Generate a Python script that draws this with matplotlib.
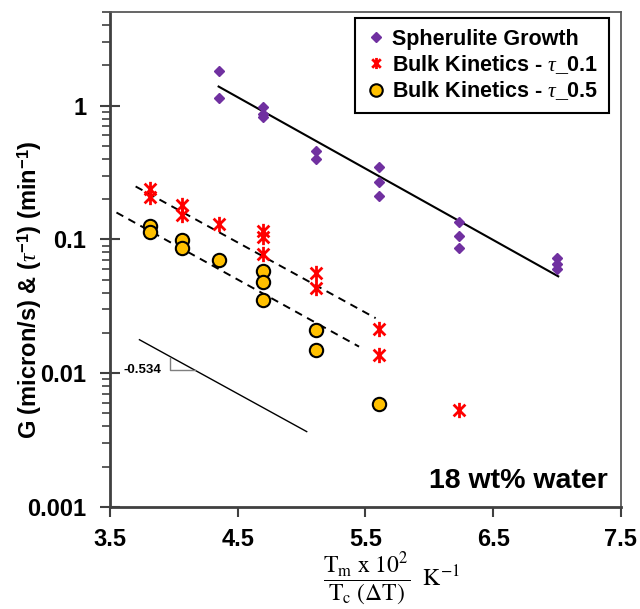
import matplotlib
matplotlib.use("Agg")
import matplotlib.pyplot as plt
from matplotlib.path import Path
from matplotlib.ticker import FixedLocator, LogLocator, NullFormatter

plt.rcParams['font.family'] = ['Liberation Sans', 'DejaVu Sans']
plt.rcParams['mathtext.fontset'] = 'custom'
plt.rcParams['mathtext.rm'] = 'Liberation Sans:bold'
plt.rcParams['mathtext.bf'] = 'Liberation Sans:bold'
plt.rcParams['mathtext.it'] = 'Liberation Serif:italic'

# ---------------- data ----------------
x_sph = [4.35, 4.35, 4.70, 4.70, 4.70, 5.11, 5.11, 5.61, 5.61, 5.61,
         6.23, 6.23, 6.23, 7.00, 7.00, 7.00]
y_sph = [1.83, 1.15, 0.98, 0.86, 0.83, 0.46, 0.40, 0.35, 0.27, 0.21,
         0.135, 0.107, 0.086, 0.073, 0.066, 0.060]

x_t01 = [3.81, 3.81, 4.06, 4.06, 4.35, 4.70, 4.70, 4.70, 5.11, 5.11, 5.61, 5.61, 6.23]
y_t01 = [0.24, 0.207, 0.182, 0.153, 0.131, 0.115, 0.104, 0.078, 0.056, 0.043,
         0.0215, 0.0137, 0.0053]

x_t05 = [3.81, 3.81, 4.06, 4.06, 4.35, 4.70, 4.70, 4.70, 5.11, 5.11, 5.61]
y_t05 = [0.126, 0.114, 0.099, 0.087, 0.070, 0.058, 0.048, 0.0355, 0.021, 0.0148, 0.0059]

fit_sph_x = [4.35, 7.01]
fit_sph_y = [1.39, 0.053]
fit_t01_x = [3.70, 5.58]
fit_t01_y = [0.249, 0.0258]
fit_t05_x = [3.55, 5.45]
fit_t05_y = [0.159, 0.0158]
slope_x = [3.73, 5.04]
slope_y = [0.0178, 0.00366]
tri_x = [3.97, 3.97, 4.165]
tri_y = [0.0131, 0.0106, 0.0106]
slope_label = "-0.534"

xticks = [3.5, 4.5, 5.5, 6.5, 7.5]
xticklabels = ["3.5", "4.5", "5.5", "6.5", "7.5"]
yticks = [0.001, 0.01, 0.1, 1]
yticklabels = ["0.001", "0.01", "0.1", "1"]

labels = ["Spherulite Growth", r"Bulk Kinetics - $\tau$_0.1", r"Bulk Kinetics - $\tau$_0.5"]

# ---------------- figure ----------------
fig = plt.figure(figsize=(6.4, 6.09), dpi=100)
ax = fig.add_axes([0.172, 0.1675, 0.798, 0.8125])

star = Path([(-1, -1), (1, 1), (-1, 1), (1, -1), (0, -1.3), (0, 1.3)],
            [Path.MOVETO, Path.LINETO, Path.MOVETO, Path.LINETO, Path.MOVETO, Path.LINETO])

ax.plot(fit_sph_x, fit_sph_y, color='black', lw=1.5, zorder=2)
ax.plot(fit_t01_x, fit_t01_y, color='black', lw=1.4, ls=(0, (4, 3)), zorder=2)
ax.plot(fit_t05_x, fit_t05_y, color='black', lw=1.4, ls=(0, (4, 3)), zorder=2)
ax.plot(slope_x, slope_y, color='black', lw=1.0, zorder=2)
ax.plot(tri_x, tri_y, color='#7f7f7f', lw=1.0, zorder=2)
ax.text(3.905, 0.0106, slope_label, fontsize=9.5, fontweight='bold', ha='right', va='center')

h1, = ax.plot(x_sph, y_sph, ls='none', marker='D', ms=5.6, color='#7030A0',
              mec='#7030A0', zorder=3)
h2, = ax.plot(x_t01, y_t01, ls='none', marker=star, ms=11, mew=2.0, color='#FF0000',
              mec='#FF0000', zorder=3)
h3, = ax.plot(x_t05, y_t05, ls='none', marker='o', ms=9.6, mfc='#FFC000', mec='black',
              mew=1.5, zorder=3)

ax.set_yscale('log')
ax.set_xlim(3.5, 7.5)
ax.set_ylim(0.001, 5)

ax.xaxis.set_major_locator(FixedLocator(xticks))
ax.set_xticklabels(xticklabels)
ax.yaxis.set_major_locator(FixedLocator(yticks))
ax.set_yticklabels(yticklabels)
ax.yaxis.set_minor_locator(LogLocator(base=10, subs=range(2, 10), numticks=20))
ax.yaxis.set_minor_formatter(NullFormatter())

for lab in ax.get_xticklabels() + ax.get_yticklabels():
    lab.set_fontsize(17)
    lab.set_fontweight('bold')

ax.tick_params(axis='y', which='major', direction='inout', length=14, width=1.5, color='#404040', pad=10)
ax.tick_params(axis='y', which='minor', direction='out', length=6, width=1.2, color='#404040')
ax.tick_params(axis='x', which='major', direction='out', length=7, width=1.5, color='#404040', pad=8)

for s in ['left', 'bottom']:
    ax.spines[s].set_linewidth(2.0)
    ax.spines[s].set_color('#404040')
for s in ['top', 'right']:
    ax.spines[s].set_linewidth(1.3)
    ax.spines[s].set_color('#595959')

ax.set_ylabel(r"G (micron/s) & ($\tau^{-1}$) (min$^{-1}$)", fontsize=17,
              fontweight='bold')
ax.yaxis.set_label_coords(-0.172 + 22 / 511, 0.5 - 30 / 495)

fig.text(391 / 640, 1 - 579 / 609,
         r"$\dfrac{\mathrm{T_m\ x\ 10^2}}{\mathrm{T_c\ (\Delta T)}}\ \ \mathrm{K^{-1}}$",
         fontsize=17, ha='center', va='center', math_fontfamily='stix')

ax.text(0.975, 0.038, "18 wt% water", transform=ax.transAxes, fontsize=20.5,
        fontweight='bold', ha='right', va='baseline')

leg = ax.legend([h1, h2, h3], labels, loc='upper right', bbox_to_anchor=(0.977, 0.988),
                borderaxespad=0, prop={'weight': 'bold', 'size': 15.5}, fancybox=False,
                framealpha=1, edgecolor='black', handlelength=0.9, handletextpad=0.3,
                labelspacing=0.15, borderpad=0.5)
leg.get_frame().set_linewidth(1.5)
leg.legend_handles[1].set_markersize(8)
leg.legend_handles[0].set_markersize(5)
leg.legend_handles[2].set_markersize(9)

fig.savefig("out.png", dpi=100)
